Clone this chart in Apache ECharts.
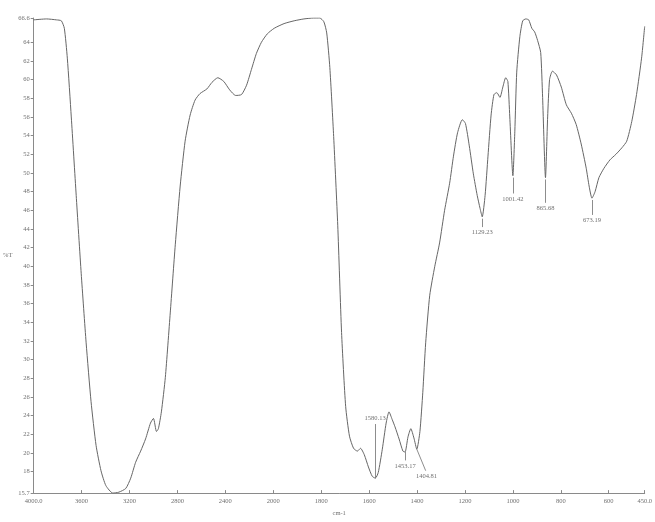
<!DOCTYPE html>
<html>
<head>
<meta charset="utf-8">
<script src="https://cdn.jsdelivr.net/npm/echarts@6/dist/echarts.min.js"></script>
<style>
  html, body { margin: 0; padding: 0; background: #fff; }
  #chart { width: 655px; height: 522px; }
</style>
</head>
<body>
<div id="chart"></div>
<script>
// IR spectrum, %T against wavenumber (cm-1); scale changes at 2000 cm-1
var wavenumbers = [4000, 3893, 3810, 3769, 3744, 3719, 3686, 3645, 3603, 3562, 3521, 3479, 3438, 3397, 3339, 3289,
  3231, 3190, 3149, 3107, 3066, 3025, 3000, 2975, 2959, 2934, 2901, 2860, 2818, 2777, 2736, 2694, 2653, 2612,
  2554, 2512, 2463, 2413, 2364, 2314, 2265, 2223, 2182, 2141, 2099, 2050, 1996, 1955, 1913, 1872, 1831, 1806,
  1789, 1777, 1764, 1748, 1731, 1715, 1698, 1682, 1665, 1649, 1636, 1620, 1603, 1587, 1574, 1562, 1545, 1529,
  1517, 1504, 1492, 1475, 1459, 1450, 1438, 1426, 1413, 1401, 1388, 1376, 1364, 1347, 1326, 1306, 1285, 1264,
  1248, 1231, 1211, 1198, 1182, 1165, 1149, 1137, 1128, 1116, 1104, 1091, 1079, 1067, 1054, 1042, 1030, 1021,
  1013, 1000, 992, 984, 971, 959, 946, 934, 921, 909, 897, 884, 876, 864, 855, 847, 835, 818, 798, 777, 756,
  736, 715, 694, 682, 670, 657, 641, 620, 595, 570, 545, 525, 504, 484, 463, 450];
var transmittance = [66.4, 66.5, 66.4, 66.3, 65.5, 62.3, 56.0, 47.6, 39.2, 31.8, 25.5, 20.8, 18.1, 16.5, 15.7, 15.8,
  16.2, 17.3, 19.0, 20.2, 21.5, 23.2, 23.7, 22.3, 22.6, 24.4, 28.1, 35.0, 42.3, 48.6, 53.4, 56.2, 57.8, 58.5,
  59.0, 59.7, 60.2, 59.8, 58.9, 58.3, 58.4, 59.4, 61.1, 62.8, 64.0, 64.9, 65.5, 66.0, 66.3, 66.5, 66.6, 66.6,
  66.2, 65.0, 61.3, 53.9, 44.4, 32.9, 25.0, 21.8, 20.5, 20.2, 20.5, 19.8, 18.5, 17.5, 17.3, 17.9, 20.4, 23.2,
  24.4, 23.6, 22.8, 21.5, 20.2, 20.1, 21.7, 22.6, 21.6, 20.4, 22.3, 26.5, 31.8, 36.9, 40.0, 42.5, 46.0, 48.9,
  51.8, 54.3, 55.7, 55.3, 52.9, 49.9, 47.6, 46.2, 45.3, 47.6, 51.8, 56.2, 58.4, 58.6, 58.1, 59.2, 60.2, 59.8,
  56.0, 49.7, 54.4, 60.8, 64.6, 66.3, 66.5, 66.4, 65.5, 65.1, 64.2, 62.9, 58.1, 49.5, 56.0, 60.0, 60.9, 60.5,
  59.2, 57.3, 56.4, 55.2, 53.1, 50.5, 48.6, 47.3, 48.0, 49.5, 50.5, 51.4, 52.0, 52.7, 53.4, 55.5, 58.4, 62.3, 65.7];

var xTickLabels = ['4000.0', '3600', '3200', '2800', '2400', '2000', '1800', '1600', '1400', '1200', '1000', '800', '600', '450.0'];
var xTickValues = [4000, 3600, 3200, 2800, 2400, 2000, 1800, 1600, 1400, 1200, 1000, 800, 600, 450];
var yTickValues = [15.7, 18, 20, 22, 24, 26, 28, 30, 32, 34, 36, 38, 40, 42, 44, 46, 48, 50, 52, 54, 56, 58, 60, 62, 64, 66.6];

// peak labels: text, wavenumber/T at the band, wavenumber/T at the label end
var peakLabels = ['1580.13', '1453.17', '1404.81', '1129.23', '1001.42', '865.68', '673.19'];
var peakFrom = [[1575, 17.3], [1450, 20.1], [1401, 20.4], [1128, 45.1], [1000, 49.5], [864, 49.3], [670, 47.1]];
var peakTo = [[1575, 23.1], [1450, 19.2], [1364, 18.1], [1128, 44.2], [1000, 47.8], [864, 46.8], [670, 45.5]];

// wavenumber -> position on the split axis (400 cm-1 per step above 2000, 200 below)
function pos(w) {
  return w >= 2000 ? (4000 - w) / 400 : 5 + (2000 - w) / 200;
}

var chart = echarts.init(document.getElementById('chart'));

var lineData = wavenumbers.map(function (w, i) { return [pos(w), transmittance[i]]; });
var xPositions = xTickValues.map(pos);

var marks = peakLabels.map(function (t, i) {
  return [
    { coord: [pos(peakFrom[i][0]), peakFrom[i][1]] },
    { coord: [pos(peakTo[i][0]), peakTo[i][1]], label: { formatter: t } }
  ];
});

var labelFont = { fontFamily: 'Liberation Serif', fontSize: 6.5, color: '#707070' };

var option = {
  backgroundColor: '#fff',
  animation: false,
  grid: { left: 31, right: 5, top: 18, bottom: 19 },
  xAxis: {
    type: 'value',
    min: 0,
    max: pos(450),
    name: 'cm-1',
    nameLocation: 'middle',
    nameGap: 12,
    nameTextStyle: labelFont,
    splitLine: { show: false },
    axisLine: { lineStyle: { color: '#8a8a8a', width: 1 } },
    axisTick: { customValues: xPositions, length: 3, inside: true, lineStyle: { color: '#8a8a8a' } },
    axisLabel: Object.assign({
      customValues: xPositions,
      margin: 5,
      formatter: function (v) {
        var k = xPositions.indexOf(v);
        return k >= 0 ? xTickLabels[k] : '';
      }
    }, labelFont)
  },
  yAxis: {
    type: 'value',
    min: 15.7,
    max: 66.6,
    name: '%T',
    nameLocation: 'middle',
    nameRotate: 0,
    nameGap: 17,
    nameTextStyle: labelFont,
    splitLine: { show: false },
    axisLine: { show: true, lineStyle: { color: '#8a8a8a', width: 1 } },
    axisTick: { customValues: yTickValues, length: 3, lineStyle: { color: '#8a8a8a' } },
    axisLabel: Object.assign({
      customValues: yTickValues,
      margin: 4,
      formatter: function (v) { return String(v); }
    }, labelFont)
  },
  series: [{
    type: 'line',
    data: lineData,
    showSymbol: false,
    smooth: 0.2,
    lineStyle: { color: '#666666', width: 1 },
    markLine: {
      silent: true,
      symbol: ['none', 'none'],
      lineStyle: { color: '#707070', width: 0.8, type: 'solid' },
      label: Object.assign({ position: 'end', distance: 2 }, labelFont),
      data: marks
    }
  }]
};

chart.setOption(option);
</script>
</body>
</html>
